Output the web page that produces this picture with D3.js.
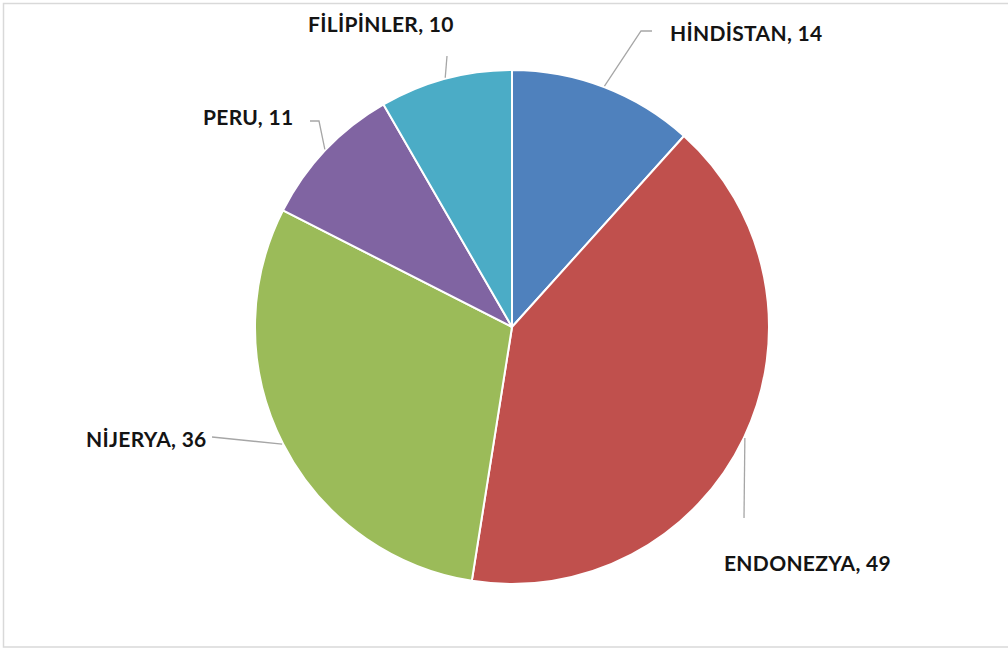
<!DOCTYPE html>
<html>
<head>
<meta charset="utf-8">
<script src="https://cdn.jsdelivr.net/npm/d3@7"></script>
<style>
  html, body { margin: 0; padding: 0; background: #fff; }
  svg { display: block; }
  .lbl { font-family: "Lato", "Open Sans", sans-serif; font-weight: 700; font-size: 21px; letter-spacing: 0.3px; fill: #141414; }
</style>
</head>
<body>
<svg id="chart" width="1008" height="651"></svg>
<script>
// Country shares
const categories = ["HİNDİSTAN", "ENDONEZYA", "NİJERYA", "PERU", "FİLİPİNLER"];
const values = [14, 49, 36, 11, 10];
const colors = ["#4F81BD", "#C0504D", "#9BBB59", "#8064A2", "#4BACC6"];

// Label placement: text start (x, baseline y) and leader-line elbow, per slice
const labelLayout = [
  { tx: 670, ty: 41,  elbow: [641, 31], end: [652, 31] },
  { tx: 724, ty: 571, elbow: [744, 518], end: null },
  { tx: 86,  ty: 447, elbow: [212, 437], end: null },
  { tx: 203, ty: 125, elbow: [319, 121], end: [310, 121] },
  { tx: 308, ty: 32,  elbow: [447, 56], end: null }
];

const W = 1008, H = 651;
const cx = 512, cy = 327, R = 257;

const svg = d3.select("#chart");

// chart frame
svg.append("rect")
  .attr("x", 3.5).attr("y", 3.5)
  .attr("width", W + 10).attr("height", H - 7.5)
  .attr("fill", "#fff").attr("stroke", "#d9d9d9").attr("stroke-width", 1.5);

const data = categories.map((c, i) => ({ name: c, value: values[i], color: colors[i], layout: labelLayout[i] }));

const pie = d3.pie().value(d => d.value).sort(null);
const arcs = pie(data);
const arc = d3.arc().innerRadius(0).outerRadius(R);

const g = svg.append("g").attr("transform", `translate(${cx},${cy})`);

g.selectAll("path.slice")
  .data(arcs)
  .join("path")
  .attr("class", "slice")
  .attr("d", arc)
  .attr("fill", d => d.data.color)
  .attr("stroke", "#fff")
  .attr("stroke-width", 2)
  .attr("stroke-linejoin", "round");

// leader lines from the slice edge at its mid-angle
const edge = d3.arc().innerRadius(R + 1).outerRadius(R + 1);
svg.selectAll("path.leader")
  .data(arcs)
  .join("path")
  .attr("class", "leader")
  .attr("d", d => {
    const [ex, ey] = edge.centroid(d);
    const pts = [[cx + ex, cy + ey], d.data.layout.elbow];
    if (d.data.layout.end) pts.push(d.data.layout.end);
    return d3.line()(pts);
  })
  .attr("fill", "none")
  .attr("stroke", "#a6a6a6")
  .attr("stroke-width", 1.3);

svg.selectAll("text.lbl")
  .data(arcs)
  .join("text")
  .attr("class", "lbl")
  .attr("x", d => d.data.layout.tx)
  .attr("y", d => d.data.layout.ty)
  .text(d => `${d.data.name}, ${d.data.value}`);
</script>
</body>
</html>
